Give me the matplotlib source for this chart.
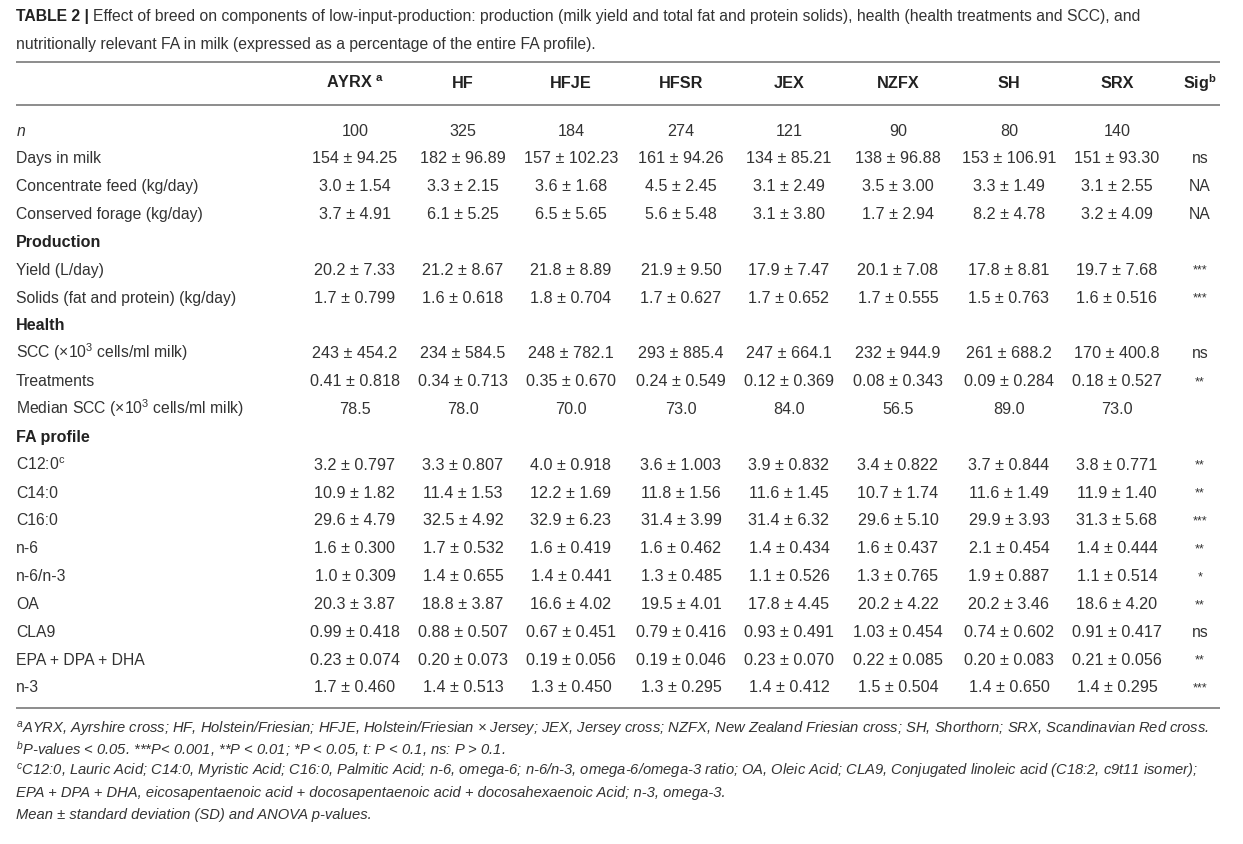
import matplotlib.pyplot as plt

plt.rcParams['font.family'] = ['Liberation Sans', 'DejaVu Sans']
plt.rcParams['mathtext.fontset'] = 'custom'
plt.rcParams['mathtext.rm'] = 'Liberation Sans'
plt.rcParams['mathtext.it'] = 'Liberation Sans:italic'
plt.rcParams['mathtext.bf'] = 'Liberation Sans:bold'
plt.rcParams['mathtext.default'] = 'regular'

# table data
breeds = ['AYRX $^{a}$', 'HF', 'HFJE', 'HFSR', 'JEX', 'NZFX', 'SH', 'SRX']
n_cows = ['100', '325', '184', '274', '121', '90', '80', '140']

days_mean = ['154', '182', '157', '161', '134', '138', '153', '151']
days_sd = ['94.25', '96.89', '102.23', '94.26', '85.21', '96.88', '106.91', '93.30']
conc_mean = ['3.0', '3.3', '3.6', '4.5', '3.1', '3.5', '3.3', '3.1']
conc_sd = ['1.54', '2.15', '1.68', '2.45', '2.49', '3.00', '1.49', '2.55']
forage_mean = ['3.7', '6.1', '6.5', '5.6', '3.1', '1.7', '8.2', '3.2']
forage_sd = ['4.91', '5.25', '5.65', '5.48', '3.80', '2.94', '4.78', '4.09']
yield_mean = ['20.2', '21.2', '21.8', '21.9', '17.9', '20.1', '17.8', '19.7']
yield_sd = ['7.33', '8.67', '8.89', '9.50', '7.47', '7.08', '8.81', '7.68']
solids_mean = ['1.7', '1.6', '1.8', '1.7', '1.7', '1.7', '1.5', '1.6']
solids_sd = ['0.799', '0.618', '0.704', '0.627', '0.652', '0.555', '0.763', '0.516']
scc_mean = ['243', '234', '248', '293', '247', '232', '261', '170']
scc_sd = ['454.2', '584.5', '782.1', '885.4', '664.1', '944.9', '688.2', '400.8']
treat_mean = ['0.41', '0.34', '0.35', '0.24', '0.12', '0.08', '0.09', '0.18']
treat_sd = ['0.818', '0.713', '0.670', '0.549', '0.369', '0.343', '0.284', '0.527']
median_scc = ['78.5', '78.0', '70.0', '73.0', '84.0', '56.5', '89.0', '73.0']
c12_mean = ['3.2', '3.3', '4.0', '3.6', '3.9', '3.4', '3.7', '3.8']
c12_sd = ['0.797', '0.807', '0.918', '1.003', '0.832', '0.822', '0.844', '0.771']
c14_mean = ['10.9', '11.4', '12.2', '11.8', '11.6', '10.7', '11.6', '11.9']
c14_sd = ['1.82', '1.53', '1.69', '1.56', '1.45', '1.74', '1.49', '1.40']
c16_mean = ['29.6', '32.5', '32.9', '31.4', '31.4', '29.6', '29.9', '31.3']
c16_sd = ['4.79', '4.92', '6.23', '3.99', '6.32', '5.10', '3.93', '5.68']
n6_mean = ['1.6', '1.7', '1.6', '1.6', '1.4', '1.6', '2.1', '1.4']
n6_sd = ['0.300', '0.532', '0.419', '0.462', '0.434', '0.437', '0.454', '0.444']
ratio_mean = ['1.0', '1.4', '1.4', '1.3', '1.1', '1.3', '1.9', '1.1']
ratio_sd = ['0.309', '0.655', '0.441', '0.485', '0.526', '0.765', '0.887', '0.514']
oa_mean = ['20.3', '18.8', '16.6', '19.5', '17.8', '20.2', '20.2', '18.6']
oa_sd = ['3.87', '3.87', '4.02', '4.01', '4.45', '4.22', '3.46', '4.20']
cla_mean = ['0.99', '0.88', '0.67', '0.79', '0.93', '1.03', '0.74', '0.91']
cla_sd = ['0.418', '0.507', '0.451', '0.416', '0.491', '0.454', '0.602', '0.417']
epa_mean = ['0.23', '0.20', '0.19', '0.19', '0.23', '0.22', '0.20', '0.21']
epa_sd = ['0.074', '0.073', '0.056', '0.046', '0.070', '0.085', '0.083', '0.056']
n3_mean = ['1.7', '1.4', '1.3', '1.3', '1.4', '1.5', '1.4', '1.4']
n3_sd = ['0.460', '0.513', '0.450', '0.295', '0.412', '0.504', '0.650', '0.295']


def pm(means, sds):
    return [f'{m} \u00b1 {s}' for m, s in zip(means, sds)]


# (label, cells, significance); cells None -> section heading
rows = [
    ('$\\it{n}$', n_cows, ''),
    ('Days in milk', pm(days_mean, days_sd), 'ns'),
    ('Concentrate feed (kg/day)', pm(conc_mean, conc_sd), 'NA'),
    ('Conserved forage (kg/day)', pm(forage_mean, forage_sd), 'NA'),
    ('Production', None, ''),
    ('Yield (L/day)', pm(yield_mean, yield_sd), '***'),
    ('Solids (fat and protein) (kg/day)', pm(solids_mean, solids_sd), '***'),
    ('Health', None, ''),
    ('SCC (\u00d710$^{3}$ cells/ml milk)', pm(scc_mean, scc_sd), 'ns'),
    ('Treatments', pm(treat_mean, treat_sd), '**'),
    ('Median SCC (\u00d710$^{3}$ cells/ml milk)', median_scc, ''),
    ('FA profile', None, ''),
    ('C12:0$^{c}$', pm(c12_mean, c12_sd), '**'),
    ('C14:0', pm(c14_mean, c14_sd), '**'),
    ('C16:0', pm(c16_mean, c16_sd), '***'),
    ('n-6', pm(n6_mean, n6_sd), '**'),
    ('n-6/n-3', pm(ratio_mean, ratio_sd), '*'),
    ('OA', pm(oa_mean, oa_sd), '**'),
    ('CLA9', pm(cla_mean, cla_sd), 'ns'),
    ('EPA + DPA + DHA', pm(epa_mean, epa_sd), '**'),
    ('n-3', pm(n3_mean, n3_sd), '***'),
]

footnotes = [
    '$^{a}$AYRX, Ayrshire cross; HF, Holstein/Friesian; HFJE, Holstein/Friesian \u00d7 Jersey; '
    'JEX, Jersey cross; NZFX, New Zealand Friesian cross; SH, Shorthorn; SRX, Scandinavian Red cross.',
    '$^{b}$P-values < 0.05. ***P< 0.001, **P < 0.01; *P < 0.05, t: P < 0.1, ns: P > 0.1.',
    '$^{c}$C12:0, Lauric Acid; C14:0, Myristic Acid; C16:0, Palmitic Acid; n-6, omega-6; '
    'n-6/n-3, omega-6/omega-3 ratio; OA, Oleic Acid; CLA9, Conjugated linoleic acid (C18:2, c9t11 isomer);',
    'EPA + DPA + DHA, eicosapentaenoic acid + docosapentaenoic acid + docosahexaenoic Acid; n-3, omega-3.',
    'Mean \u00b1 standard deviation (SD) and ANOVA p-values.',
]

txt = '#333333'
dark = '#222222'
rule = '#6e6e6e'
fs = 11.3

fig = plt.figure(figsize=(12.43, 8.44), dpi=100)
ax = fig.add_axes([0, 0, 1, 1])
ax.set_xlim(0, 1243)
ax.set_ylim(844, 0)
ax.axis('off')

# title
t = ax.text(16, 21, 'TABLE 2 |', fontsize=fs, fontweight='bold', color=dark, va='baseline')
fig.canvas.draw()
bb = t.get_window_extent(fig.canvas.get_renderer())
ax.text(16 + bb.width + 4, 21,
        'Effect of breed on components of low-input-production: production (milk yield and total fat '
        'and protein solids), health (health treatments and SCC), and',
        fontsize=fs, color=txt, va='baseline')
ax.text(16, 49, 'nutritionally relevant FA in milk (expressed as a percentage of the entire FA profile).',
        fontsize=fs, color=txt, va='baseline')

# rules
for y in (62, 105, 708):
    ax.plot([16, 1220], [y, y], color=rule, lw=1.1, solid_capstyle='butt')

col_x = [355, 463, 571, 681, 789, 898, 1009, 1117]
sig_x = 1200

for x, b in zip(col_x, breeds):
    ax.text(x, 88.5, b, fontsize=fs + 0.4, fontweight='bold', color=dark, ha='center', va='baseline')
ax.text(sig_x, 88.5, 'Sig$^{b}$', fontsize=fs + 0.4, fontweight='bold', color=dark,
        ha='center', va='baseline')

y0, dy = 135.5, 27.85
for i, (label, cells, sig) in enumerate(rows):
    y = y0 + i * dy
    if cells is None:
        ax.text(16, y, label, fontsize=fs + 0.3, fontweight='bold', color=dark, va='baseline')
        continue
    ax.text(16, y, label, fontsize=fs, color=txt, va='baseline')
    for x, c in zip(col_x, cells):
        ax.text(x, y, c, fontsize=fs + 0.3, color=txt, ha='center', va='baseline')
    if sig:
        if sig.startswith('*'):
            ax.text(sig_x, y - 1, sig, fontsize=9, color=txt, ha='center', va='baseline')
        else:
            ax.text(sig_x, y, sig, fontsize=fs, color=txt, ha='center', va='baseline')

for y, line in zip((734, 755, 776, 797.5, 819), footnotes):
    ax.text(16, y, line, fontsize=10.6, style='italic', color=txt, va='baseline')

fig.savefig('out.png', dpi=100)
